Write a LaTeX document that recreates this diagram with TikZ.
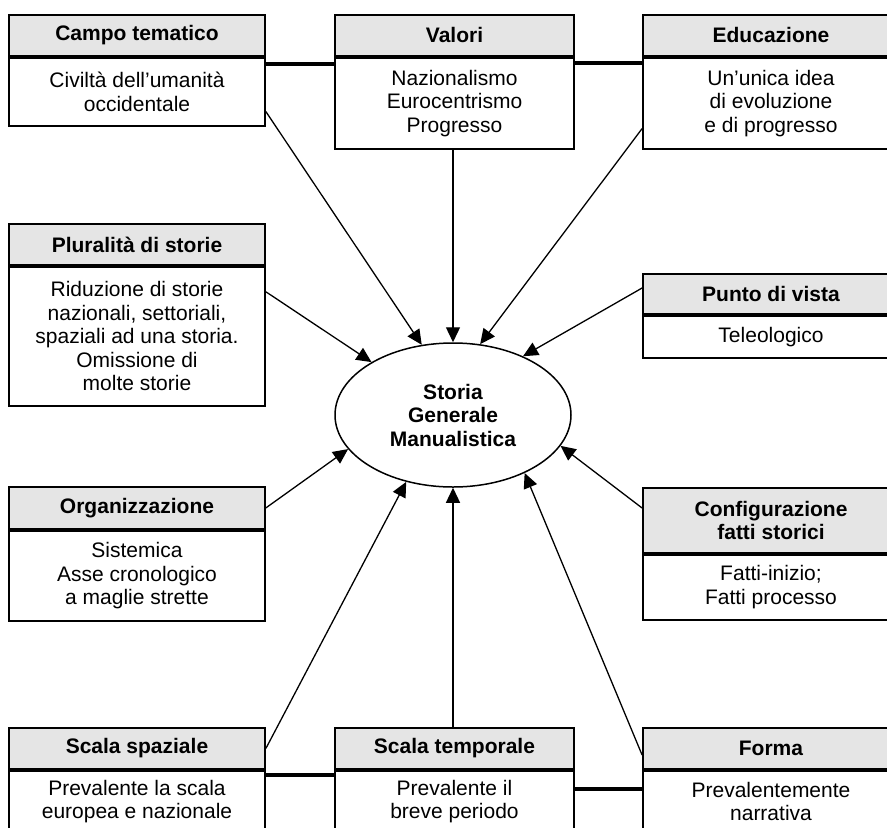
\documentclass[tikz,border=0pt]{standalone}
\usepackage{fontspec}
\setmainfont{Liberation Sans}
\usetikzlibrary{shapes.geometric,arrows.meta,calc}
\begin{document}
\begin{tikzpicture}[x=1pt,y=-1pt,
  boxline/.style={line width=1.8pt},
  hdr/.style={draw, boxline, fill=black!10, minimum width=256pt, inner sep=0pt, anchor=north, font={\fontsize{21}{23.5}\selectfont\bfseries}, align=center},
  bdy/.style={draw, boxline, fill=white, minimum width=256pt, inner sep=0pt, anchor=north, font={\fontsize{21}{23.5}\selectfont}, align=center},
  arr/.style={line width=1.3pt, -{Triangle[length=15pt,width=14pt]}},
  link/.style={line width=3.8pt}]
\useasboundingbox (0,0) rectangle (887,828);
\clip (0,0) rectangle (887,828);

% top row
\node[hdr, minimum height=41pt] (campoH) at (137,14) {Campo tematico};
\node[bdy, minimum height=68pt] (campoB) at (campoH.south) {Civiltà dell’umanità\\occidentale};
\node[hdr, minimum width=239pt, minimum height=41pt] (valoriH) at (454.5,14) {Valori};
\node[bdy, minimum width=239pt, minimum height=91pt] (valoriB) at (valoriH.south) {Nazionalismo\\Eurocentrismo\\Progresso};
\node[hdr, minimum height=41pt] (educH) at (771,14) {Educazione};
\node[bdy, minimum height=91pt] (educB) at (educH.south) {Un’unica idea\\di evoluzione\\e di progresso};

% middle
\node[hdr, minimum height=41pt] (plurH) at (137,223) {Pluralità di storie};
\node[bdy, minimum height=139pt] (plurB) at (plurH.south) {Riduzione di storie\\nazionali, settoriali,\\spaziali ad una storia.\\Omissione di\\molte storie};
\node[hdr, minimum height=40pt] (puntoH) at (771,273) {Punto di vista};
\node[bdy, minimum height=42pt] (puntoB) at (puntoH.south) {Teleologico};
\node[hdr, minimum height=42pt] (orgH) at (137,486) {Organizzazione};
\node[bdy, minimum height=90pt] (orgB) at (orgH.south) {Sistemica\\Asse cronologico\\a maglie strette};
\node[hdr, minimum height=65pt] (confH) at (771,487) {Configurazione\\fatti storici};
\node[bdy, minimum height=65pt] (confB) at (confH.south) {Fatti-inizio;\\Fatti processo};

% bottom row
\node[hdr, minimum height=41pt] (spazH) at (137,727) {Scala spaziale};
\node[bdy, minimum height=62pt] (spazB) at (spazH.south) {Prevalente la scala\\europea e nazionale};
\node[hdr, minimum width=239pt, minimum height=41pt] (tempH) at (454.5,727) {Scala temporale};
\node[bdy, minimum width=239pt, minimum height=62pt] (tempB) at (tempH.south) {Prevalente il\\breve periodo};
\node[hdr, minimum height=41pt] (formaH) at (771,727) {Forma};
\node[bdy, minimum height=62pt] (formaB) at (formaH.south) {Prevalentemente\\narrativa};

% centre
\node[ellipse, draw, line width=1.5pt, minimum width=236pt, minimum height=144pt, inner sep=0pt,
      font={\fontsize{21}{23.5}\selectfont\bfseries}, align=center] (ell) at (453,415) {Storia\\Generale\\Manualistica};

% thick links
\draw[link] ($(campoB.north east)+(0,7)$) -- ($(valoriB.north west)+(0,7)$);
\draw[link] ($(valoriB.north east)+(0,6)$) -- ($(educB.north west)+(0,6)$);
\draw[link] ($(spazB.north east)+(0,5)$) -- ($(tempB.north west)+(0,5)$);
\draw[link] ($(tempB.north east)+(0,19)$) -- ($(formaB.north west)+(0,19)$);

% arrows
\draw[arr] ($(campoB.south east)+(0,-15)$) -- (ell.114);
\draw[arr] (valoriB.south -| ell.north) -- (ell.north);
\draw[arr] ($(educB.south west)+(0,-21)$) -- (ell.69);
\draw[arr] ($(plurB.north east)+(0,26)$) -- (ell.147);
\draw[arr] ($(puntoH.north west)+(0,15)$) -- (ell.40);
\draw[arr] (orgH.east) -- (ell.198);
\draw[arr] ($(confH.north west)+(0,21)$) -- (ell.-16);
\draw[arr] (spazH.east) -- (ell.235);
\draw[arr] (tempH.north -| ell.south) -- (ell.south);
\draw[arr] ($(formaH.north west)+(0,28)$) -- (ell.-39);
\end{tikzpicture}
\end{document}
